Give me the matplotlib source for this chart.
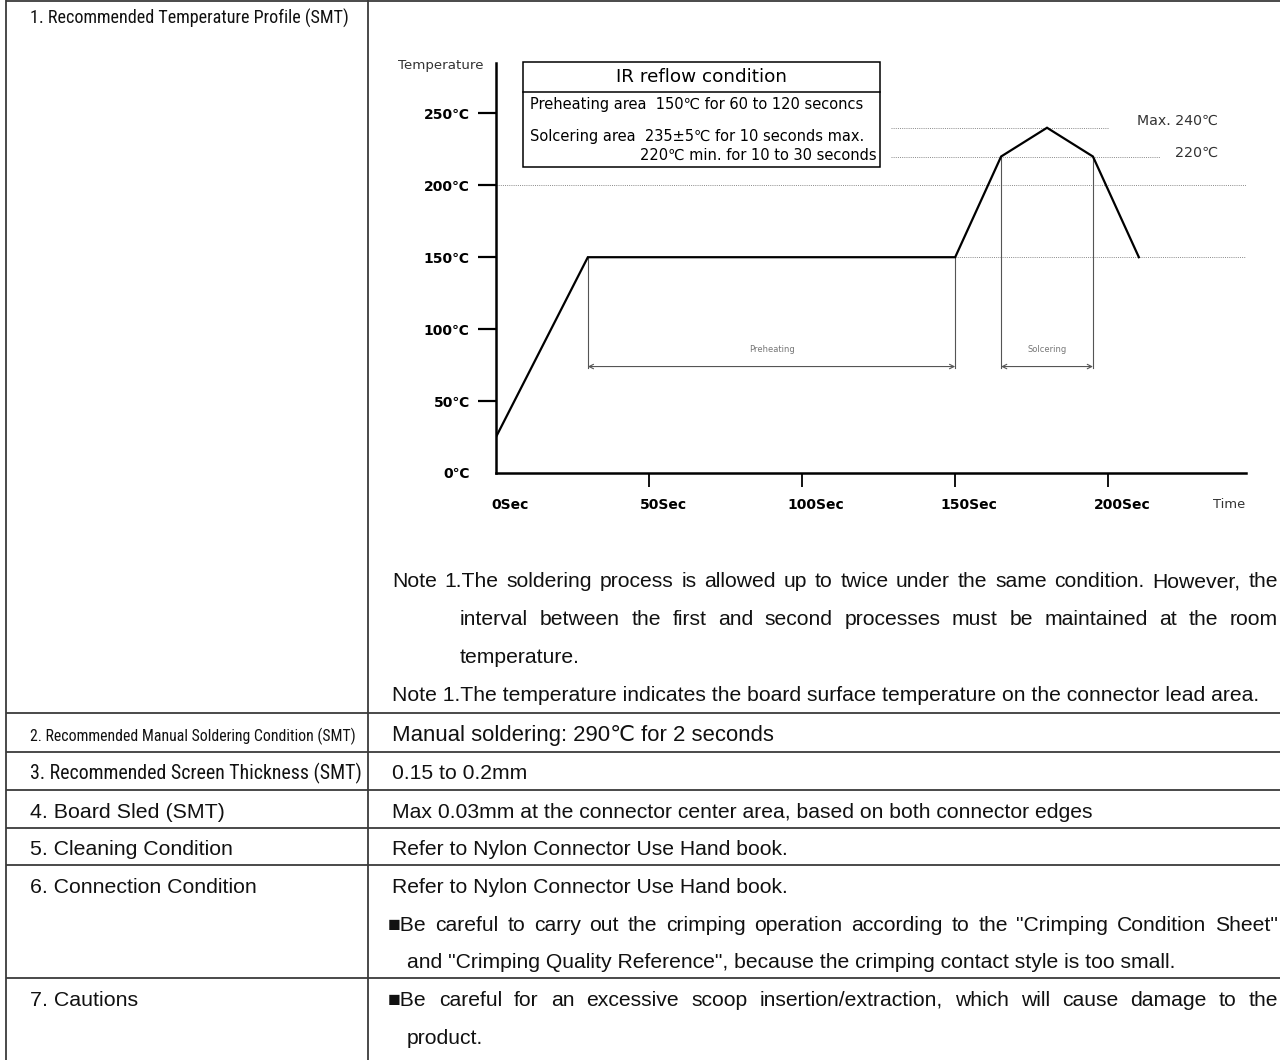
import numpy as np
import matplotlib
matplotlib.use('Agg')
import matplotlib.pyplot as plt
from matplotlib import font_manager
from matplotlib.font_manager import FontProperties
from matplotlib.transforms import ScaledTranslation
from matplotlib.patches import Rectangle

# ---------------- data ----------------
profile_time = [0, 30, 150, 165, 180, 195, 210]          # seconds
profile_temp = [25, 150, 150, 220, 240, 220, 150]        # deg C
temp_ticks = [0, 50, 100, 150, 200, 250]
temp_tick_labels = ['0℃', '50℃', '100℃', '150℃', '200℃', '250℃']
time_ticks = [0, 50, 100, 150, 200]
time_tick_labels = ['0Sec', '50Sec', '100Sec', '150Sec', '200Sec']
guide_temps = [240, 220, 200, 150]
guide_from = [129, 129, 0, 150]
guide_to = [200, 217, 245, 245]
preheat_span = [30, 150]
solder_span = [165, 195]
span_names = ['Preheating', 'Solcering']
box_title = 'IR reflow condition'
box_lines = ['Preheating area  150℃ for 60 to 120 seconcs',
             'Solcering area  235±5℃ for 10 seconds max.',
             '220℃ min. for 10 to 30 seconds']
peak_labels = ['Max. 240℃', '220℃']

row_labels = ['1. Recommended Temperature Profile (SMT)',
              '2. Recommended Manual Soldering Condition (SMT)',
              '3. Recommended Screen Thickness (SMT)',
              '4. Board Sled (SMT)',
              '5. Cleaning Condition',
              '6. Connection Condition',
              '7. Cautions']
notes = ['Note 1.The soldering process is allowed up to twice under the same condition. However, the',
         'interval between the first and second processes must be maintained at the room',
         'temperature.',
         'Note 1.The temperature indicates the board surface temperature on the connector lead area.']
row_values = ['Manual soldering: 290℃ for 2 seconds',
              '0.15 to 0.2mm',
              'Max 0.03mm at the connector center area, based on both connector edges',
              'Refer to Nylon Connector Use Hand book.',
              'Refer to Nylon Connector Use Hand book.']
connection_notes = ['■Be careful to carry out the crimping operation according to the "Crimping Condition Sheet"',
                    'and "Crimping Quality Reference", because the crimping contact style is too small.']
caution_notes = ['■Be careful for an excessive scoop insertion/extraction, which will cause damage to the',
                 'product.']

# ---------------- fonts ----------------
ttfs = font_manager.fontManager.ttflist
avail = {f.name for f in ttfs}


def pick(*names):
    return [n for n in names if n in avail] + ['DejaVu Sans']


def is_regular(f):
    return f.style == 'normal' and f.weight in (400, 'normal', 'regular', 'book')


def narrow_props():
    prefs = ['Liberation Sans Narrow', 'Arial Narrow', 'Roboto Condensed',
             'Open Sans Condensed', 'Noto Sans Condensed', 'DejaVu Sans Condensed']
    for p in prefs:
        for f in ttfs:
            if f.name == p and is_regular(f):
                return FontProperties(fname=f.fname)
    for f in ttfs:
        if (str(f.stretch) in ('condensed', 'semi-condensed', 'extra-condensed')
                and 'Sans' in f.name and 'Mono' not in f.name and is_regular(f)):
            return FontProperties(fname=f.fname)
    return FontProperties(family=pick('Liberation Sans', 'Arial'))


ARIAL = pick('Liberation Sans', 'Arial')
CHART = pick('Noto Sans CJK KR')
NARROW_FP = narrow_props()

W, H = 1280, 1060
fig = plt.figure(figsize=(W / 100, H / 100), dpi=100)
fig.patch.set_facecolor('white')

# ---------------- chart ----------------
x0p, y0p, x1p, y1p = 496, 473, 1246, 63
ax = fig.add_axes([x0p / W, 1 - y0p / H, (x1p - x0p) / W, (y0p - y1p) / H])
ax.set_xlim(0, 245)
ax.set_ylim(0, 285)
ax.patch.set_alpha(0)
for s in ('top', 'right'):
    ax.spines[s].set_visible(False)
for s in ('left', 'bottom'):
    ax.spines[s].set_linewidth(1.8)

ax.hlines(guide_temps, guide_from, guide_to, colors='#8a8a8a',
          linestyles=(0, (1, 1.2)), lw=0.7, zorder=1)
ax.plot(profile_time, profile_temp, color='black', lw=1.6, zorder=3,
        solid_joinstyle='miter')

arrow_temp = 74
for span, name in zip([preheat_span, solder_span], span_names):
    for t in span:
        ax.plot([t, t], [np.interp(t, profile_time, profile_temp), arrow_temp - 1],
                color='#555555', lw=0.8, zorder=2)
    ax.annotate('', xy=(span[1], arrow_temp), xytext=(span[0], arrow_temp),
                arrowprops=dict(arrowstyle='<->', color='#555555', lw=0.8,
                                mutation_scale=8, shrinkA=0, shrinkB=0))
    ax.text(sum(span) / 2, arrow_temp + 12, name, ha='center', va='center',
            fontsize=6, color='#777777', family=CHART)

ax.set_yticks(temp_ticks, temp_tick_labels)
ax.set_xticks(time_ticks, time_tick_labels)
ax.tick_params(axis='y', direction='out', length=13, width=1.6, pad=6)
ax.tick_params(axis='x', direction='out', length=10, width=1.3, pad=8)
ax.yaxis.get_major_ticks()[0].tick1line.set_visible(False)
ax.xaxis.get_major_ticks()[0].tick1line.set_visible(False)
shift = ScaledTranslation(0.14, 0, fig.dpi_scale_trans)
for lbl in ax.get_xticklabels():
    lbl.set_fontfamily(CHART)
    lbl.set_fontsize(10)
    lbl.set_fontweight('bold')
    lbl.set_transform(lbl.get_transform() + shift)
for lbl in ax.get_yticklabels():
    lbl.set_fontfamily(CHART)
    lbl.set_fontsize(10)
    lbl.set_fontweight('bold')

# ---------------- overlay (page / table) ----------------
ov = fig.add_axes([0, 0, 1, 1], zorder=5)
ov.set_xlim(0, W)
ov.set_ylim(H, 0)
ov.set_axis_off()
ov.patch.set_visible(False)
renderer = fig.canvas.get_renderer()


def width_of(t):
    return t.get_window_extent(renderer).width


def fit(x, y, s, target_w, family=None, fp=None, size0=12, **kw):
    if fp is not None:
        t = ov.text(x, y, s, fontproperties=fp.copy(), **kw)
    else:
        t = ov.text(x, y, s, family=family, **kw)
    t.set_fontsize(size0)
    t.set_fontsize(size0 * target_w / width_of(t))
    return t


def justify(xa, xb, y, s, size, family, **kw):
    words = s.split(' ')
    ts = [ov.text(xa, y, w, fontsize=size, family=family, ha='left',
                  va='baseline', **kw) for w in words]
    ws = [width_of(t) for t in ts]
    gap = (xb - xa - sum(ws)) / (len(words) - 1)
    x = xa
    for t, w in zip(ts, ws):
        t.set_x(x)
        x += w + gap


# chart annotations
fit(483, 66, 'Temperature', 85, CHART, ha='right', va='center', color='#333333')
fit(1245, 505, 'Time', 32, CHART, ha='right', va='center', color='#333333')
fit(1218, 121, peak_labels[0], 81, CHART, ha='right', va='center', color='#333333')
fit(1218, 153, peak_labels[1], 43, CHART, ha='right', va='center', color='#333333')

bx0, by0, bx1, by1, bmid = 523, 62, 880, 167, 92
ov.add_patch(Rectangle((bx0, by0), bx1 - bx0, by1 - by0, fill=False,
                       ec='black', lw=1.1))
ov.plot([bx0, bx1], [bmid, bmid], color='black', lw=1.1)
fit((bx0 + bx1) / 2, 77, box_title, 171, CHART, ha='center', va='center')
t = fit(530, 105, box_lines[0], 332, CHART, ha='left', va='center')
bsize = t.get_fontsize()
ov.text(530, 137, box_lines[1], fontsize=bsize, family=CHART, ha='left', va='center')
ov.text(877, 155, box_lines[2], fontsize=bsize, family=CHART, ha='right', va='center')

# table grid
LC = '#3a3a3a'
row_lines = [713, 752, 790, 828, 865, 978]
ov.hlines([1] + row_lines, 6, W, colors=LC, lw=1.3)
ov.vlines([6, 368], 0, H, colors=LC, lw=1.3)

# left column labels
label_base = [24, 741, 779, 818, 855, 893, 1006]
label_widths = [318, 325, 331, 195, 204, 227, 108]
for i, (lab, yb, wt) in enumerate(zip(row_labels, label_base, label_widths)):
    if i < 3:
        fit(30, yb, lab, wt, fp=NARROW_FP, ha='left', va='baseline', color='#111111')
    else:
        fit(30, yb, lab, wt, ARIAL, ha='left', va='baseline', color='#111111')

# right column
t = fit(392, 701, notes[3], 872, ARIAL, ha='left', va='baseline', color='#111111')
S = t.get_fontsize()
justify(392, 1278, 587, notes[0], S, ARIAL, color='#111111')
justify(460, 1278, 625, notes[1], S, ARIAL, color='#111111')
ov.text(460, 663, notes[2], fontsize=S, family=ARIAL, va='baseline', color='#111111')

fit(392, 741, row_values[0], 383, ARIAL, ha='left', va='baseline', color='#111111')
value_base = [779, 818, 855, 893]
for s, yb in zip(row_values[1:], value_base):
    ov.text(392, yb, s, fontsize=S, family=ARIAL, va='baseline', color='#111111')
justify(388, 1278, 931, connection_notes[0], S, ARIAL, color='#111111')
ov.text(407, 968, connection_notes[1], fontsize=S, family=ARIAL, va='baseline', color='#111111')
justify(388, 1278, 1006, caution_notes[0], S, ARIAL, color='#111111')
ov.text(407, 1044, caution_notes[1], fontsize=S, family=ARIAL, va='baseline', color='#111111')

fig.savefig('out.png', dpi=100, facecolor='white')
